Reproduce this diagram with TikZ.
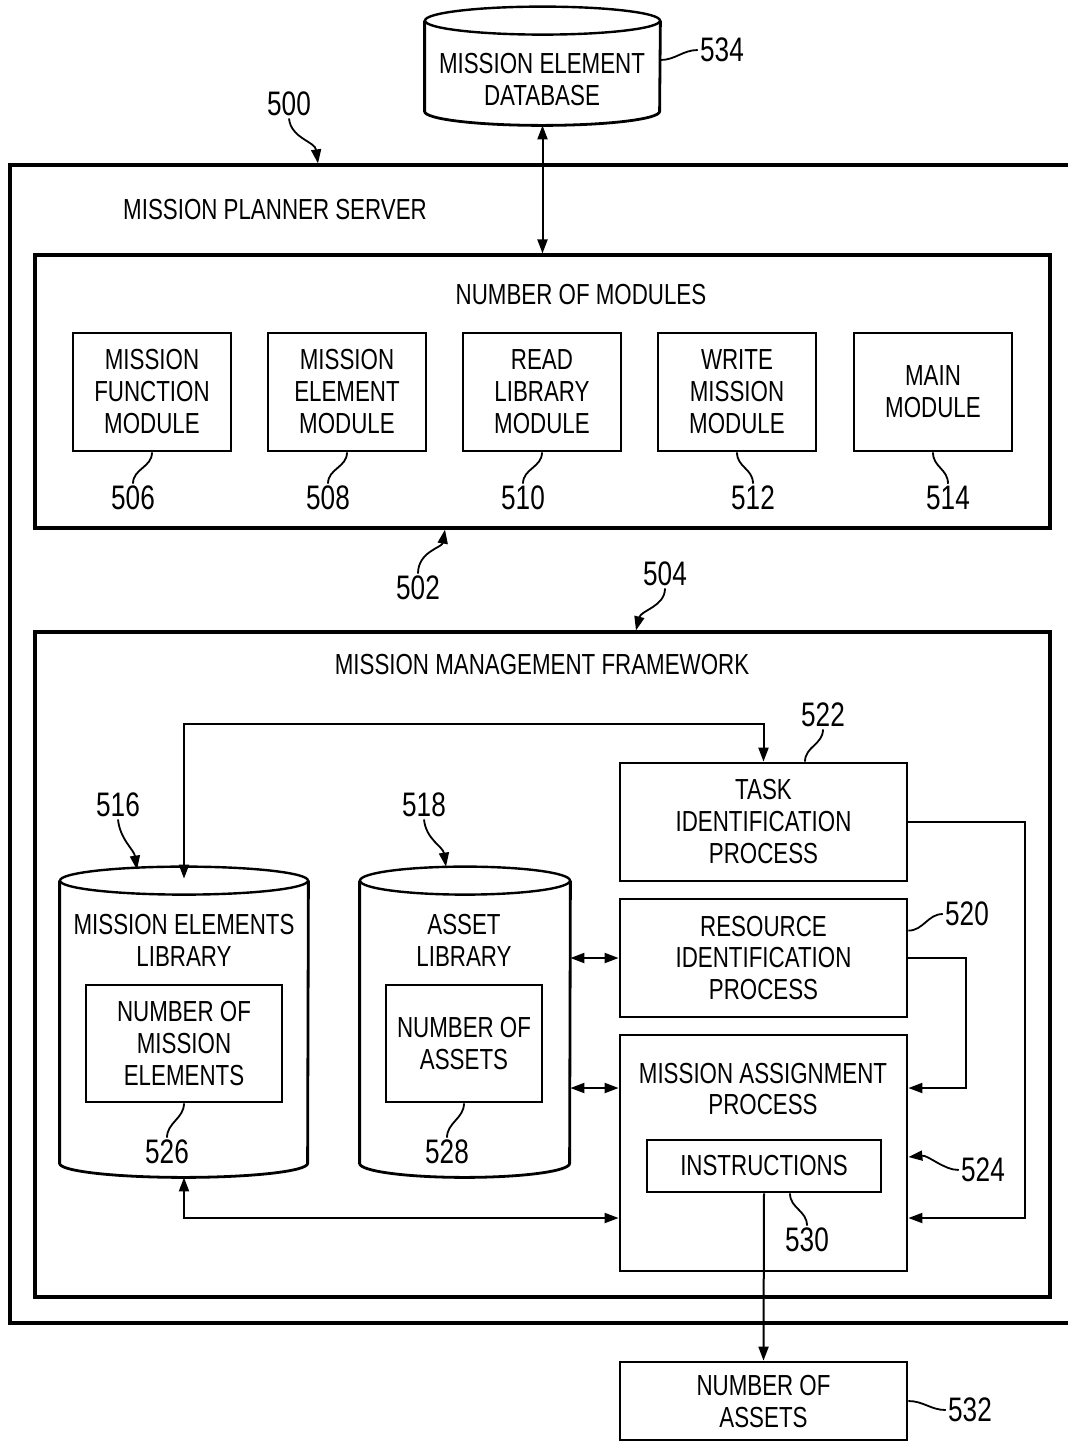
\documentclass[tikz,border=0pt]{standalone}
\usepackage{fontspec}
\setmainfont{Liberation Sans}[FakeStretch=0.77]
\usetikzlibrary{arrows.meta,positioning}

% outline of a storage drum round the named node #1, half width #2
\newcommand\storeoutline[2]{%
  \draw[line width=1.4pt] ([yshift=-7pt]#1.north west) -- ([yshift=7pt]#1.south west)
    arc[start angle=180,end angle=0,x radius=#2,y radius=14]
    -- ([yshift=-7pt]#1.north east);
  \draw[line width=1.2pt] ([yshift=-7pt]#1.north) ellipse[x radius=#2,y radius=14];}

\begin{document}
\begin{tikzpicture}[x=0.5pt,y=-0.5pt,>={Triangle[length=7pt,width=5pt]},
    every node/.style={align=center},
    font=\fontsize{14.5}{16}\selectfont,
    box/.style={rectangle,draw,line width=1.4pt,inner sep=0pt},
    modbox/.style={box,minimum width=79pt,minimum height=59pt},
    procbox/.style={box,minimum width=143.5pt,minimum height=59pt},
    frame/.style={rectangle,draw,line width=1.6pt,inner sep=0pt},
    store/.style={rectangle,inner sep=0pt},
    wire/.style={line width=1pt},
    lead/.style={line width=0.9pt},
    num/.style={font=\fontsize{17}{19}\selectfont,inner sep=1pt}]
  \useasboundingbox (0,0) rectangle (1067,1442);

  % server and its two parts
  \node[frame,minimum width=540pt,minimum height=579pt] (server) at (550,744) {};
  \node (servername) at (275,210) {MISSION PLANNER SERVER};
  \node[frame,minimum width=507.5pt,minimum height=136.5pt] (mods) at (542.5,391.5) {};
  \node (modsname) at (581,295) {NUMBER OF MODULES};
  \node[frame,minimum width=507.5pt,minimum height=332.5pt] (fw) at (542.5,964.5) {};
  \node (fwname) at (542,665) {MISSION MANAGEMENT FRAMEWORK};

  % modules
  \node[modbox] (funcmod) at (152,392) {MISSION\\FUNCTION\\MODULE};
  \node[modbox] (elemmod) at (347,392) {MISSION\\ELEMENT\\MODULE};
  \node[modbox] (readmod) at (542,392) {READ\\LIBRARY\\MODULE};
  \node[modbox] (writemod) at (737,392) {WRITE\\MISSION\\MODULE};
  \node[modbox] (mainmod) at (933,392) {MAIN\\MODULE};

  % database
  \node[store,minimum width=117.5pt,minimum height=59pt] (db) at (542.5,66) {};
  \storeoutline{db}{117.5}
  \node (dbname) at (542,80) {MISSION ELEMENT\\DATABASE};

  % libraries
  \node[store,minimum width=124pt,minimum height=155pt] (melib) at (184,1022) {};
  \storeoutline{melib}{124}
  \node (melibname) at (184,940) {MISSION ELEMENTS\\LIBRARY};
  \node[box,minimum width=98pt,minimum height=58.5pt] (melems) at (184,1043.5) {NUMBER OF\\MISSION\\ELEMENTS};
  \node[store,minimum width=105pt,minimum height=155pt] (alib) at (465,1022) {};
  \storeoutline{alib}{105}
  \node (alibname) at (464,940) {ASSET\\LIBRARY};
  \node[box,minimum width=78pt,minimum height=58.5pt] (assets) at (464,1043.5) {NUMBER OF\\ASSETS};

  % processes
  \node[procbox] (task) at (763.5,822) {TASK\\IDENTIFICATION\\PROCESS};
  \node[procbox] (res) at (763.5,958) {RESOURCE\\IDENTIFICATION\\PROCESS};
  \node[procbox,minimum height=118pt] (ma) at (763.5,1153) {};
  \node (maname) at (763,1089) {MISSION ASSIGNMENT\\PROCESS};
  \node[box,minimum width=117pt,minimum height=26pt] (instr) at (764,1166) {INSTRUCTIONS};
  \node[procbox,minimum height=39pt] (out) at (763.5,1401) {NUMBER OF\\ASSETS};

  % connectors
  \coordinate (loop) at (500,724);
  \coordinate (maw1) at ([yshift=32.5pt]ma.west);
  \coordinate (maw2) at ([yshift=-32.5pt]ma.west);
  \coordinate (mae1) at ([yshift=32.5pt]ma.east);
  \coordinate (mae2) at ([yshift=-32.5pt]ma.east);
  \draw[<->,wire] (db.south) -- (db.south |- mods.north);
  \draw[<->,wire] ([yshift=-6pt]melib.north) |- (loop -| task.north) -- (task.north);
  \draw[<->,wire] (alib.east |- res.west) -- (res.west);
  \draw[<->,wire] (alib.east |- maw1) -- (maw1);
  \draw[<->,wire] (melib.south) |- (maw2);
  \draw[->,wire] (task.east) -- ++(117,0) |- (mae2);
  \draw[->,wire] (res.east) -- ++(58,0) |- (mae1);
  \draw[->,wire] (instr.south) -- (out.north);

  % reference numbers
  \node[num] (n500) at (289,104) {500};
  \node[num] (n502) at (418,588) {502};
  \node[num] (n504) at (665,574) {504};
  \node[num] (n506) at (133,498) {506};
  \node[num] (n508) at (328,498) {508};
  \node[num] (n510) at (523,498) {510};
  \node[num] (n512) at (753,498) {512};
  \node[num] (n514) at (948,498) {514};
  \node[num] (n516) at (118,805) {516};
  \node[num] (n518) at (424,805) {518};
  \node[num] (n520) at (967,914) {520};
  \node[num] (n522) at (823,715) {522};
  \node[num] (n524) at (983,1170) {524};
  \node[num] (n526) at (167,1152) {526};
  \node[num] (n528) at (447,1152) {528};
  \node[num] (n530) at (807,1240) {530};
  \node[num] (n532) at (970,1410) {532};
  \node[num] (n534) at (722,50) {534};

  \draw[lead,->] (n500.south) .. controls +(2,20) and +(-3,-22) .. ([xshift=-116pt]server.north);
  \draw[lead,->] (n502.north) .. controls +(0,-22) and +(-3,18) .. ([xshift=-48.75pt]mods.south);
  \draw[lead,->] (n504.south) .. controls +(0,18) and +(5,-20) .. ([xshift=46.75pt]fw.north);
  \draw[lead] (funcmod.south) .. controls +(0,15) and +(0,-15) .. (n506.north);
  \draw[lead] (elemmod.south) .. controls +(0,15) and +(0,-15) .. (n508.north);
  \draw[lead] (readmod.south) .. controls +(0,15) and +(0,-15) .. (n510.north);
  \draw[lead] (writemod.south) .. controls +(0,15) and +(0,-15) .. (n512.north);
  \draw[lead] (mainmod.south) .. controls +(0,15) and +(0,-15) .. (n514.north);
  \draw[lead,->] (n516.south) .. controls +(2,20) and +(-3,-20) .. ([xshift=-23.5pt,yshift=-1.5pt]melib.north);
  \draw[lead,->] (n518.south) .. controls +(2,20) and +(-3,-20) .. ([xshift=-9.5pt]alib.north);
  \draw[lead] ([yshift=-16.5pt]res.north east) .. controls +(15,0) and +(-15,0) .. (n520.west);
  \draw[lead] ([xshift=20.75pt]task.north) .. controls +(0,-15) and +(0,15) .. (n522.south);
  \draw[lead,->] (n524.west) .. controls +(-15,0) and +(20,-2) .. ([yshift=-2pt]ma.east);
  \draw[lead] (melems.south) .. controls +(0,15) and +(0,-15) .. (n526.north);
  \draw[lead] (assets.south) .. controls +(0,15) and +(0,-15) .. (n528.north);
  \draw[lead] ([xshift=13pt]instr.south) .. controls +(0,15) and +(0,-15) .. (n530.north);
  \draw[lead] (out.east) .. controls +(15,0) and +(-15,0) .. (n532.west);
  \draw[lead] ([yshift=3pt]db.east) .. controls +(15,0) and +(-15,0) .. (n534.west);
\end{tikzpicture}
\end{document}
